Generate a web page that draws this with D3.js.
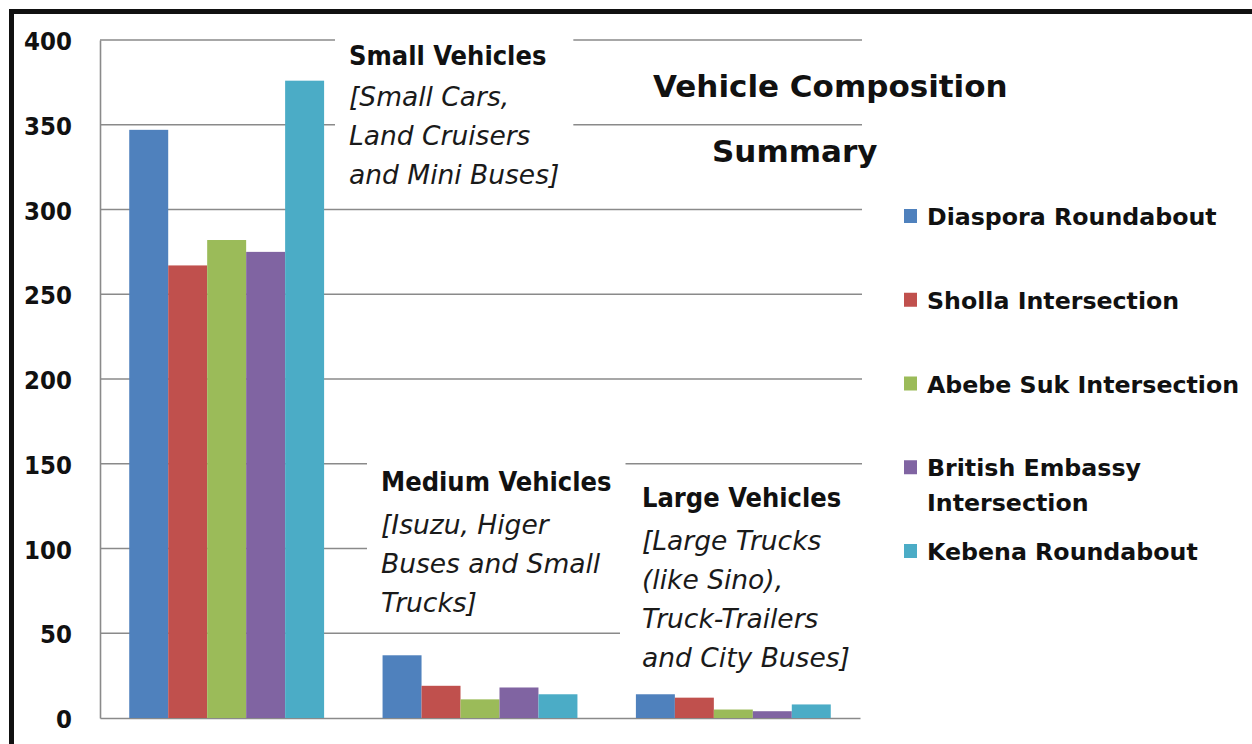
<!DOCTYPE html>
<html>
<head>
<meta charset="utf-8">
<script src="https://cdn.jsdelivr.net/npm/d3@7"></script>
<style>
  html, body { margin: 0; padding: 0; background: #fff; }
  svg { display: block; }
</style>
</head>
<body>
<svg id="chart" width="1252" height="744"></svg>
<script>
// Vehicle counts per intersection, grouped by vehicle class
const categories = ["Small Vehicles", "Medium Vehicles", "Large Vehicles"];
const seriesNames = [
  "Diaspora Roundabout",
  "Sholla Intersection",
  "Abebe Suk Intersection",
  "British Embassy Intersection",
  "Kebena Roundabout"
];
const diaspora       = [347, 37, 14];
const sholla         = [267, 19, 12];
const abebeSuk       = [282, 11, 5];
const britishEmbassy = [275, 18, 4];
const kebena         = [376, 14, 8];
const seriesValues = [diaspora, sholla, abebeSuk, britishEmbassy, kebena];
const seriesColors = ["#4F81BD", "#C0504D", "#9BBB59", "#8064A2", "#4BACC6"];
const yTicks = [0, 50, 100, 150, 200, 250, 300, 350, 400];

// Category notes printed inside the plot
const noteHeadings = ["Small Vehicles", "Medium Vehicles", "Large Vehicles"];
const noteLines = [
  ["[Small Cars,", "Land Cruisers", "and Mini Buses]"],
  ["[Isuzu, Higer", "Buses and Small", "Trucks]"],
  ["[Large Trucks", "(like Sino),", "Truck-Trailers", "and City Buses]"]
];
const titleLines = ["Vehicle Composition", "Summary"];

// ---- layout ----
const plot = { left: 100, right: 860, top: 40, bottom: 718 };
const notePos = [
  { x: 349, y: 65, padL: 14 },
  { x: 381, y: 491, padL: 14 },
  { x: 642, y: 507, padL: 22 }
];
const titlePos = [{ x: 653, y: 97 }, { x: 712, y: 162 }];

const boldFont = '"DejaVu Sans Condensed", "DejaVu Sans", sans-serif';
const plainFont = '"DejaVu Sans", sans-serif';
const gridColor = "#8a8a8a";

const svg = d3.select("#chart");

const data = categories.map((c, i) => ({
  category: c,
  values: seriesNames.map((s, j) => ({ series: s, value: seriesValues[j][i], color: seriesColors[j] }))
}));

const x0 = d3.scaleBand().domain(categories).range([plot.left, plot.right]).paddingInner(0).paddingOuter(0);
const x1 = d3.scaleBand().domain(seriesNames).range([0, x0.bandwidth()]).paddingInner(0).paddingOuter(0.75);
const y = d3.scaleLinear().domain([0, 400]).range([plot.bottom, plot.top]);

// gridlines
svg.append("g")
  .selectAll("line")
  .data(yTicks.filter(t => t > 0))
  .join("line")
  .attr("x1", plot.left).attr("x2", plot.right + 2)
  .attr("y1", d => y(d)).attr("y2", d => y(d))
  .attr("stroke", gridColor).attr("stroke-width", 1.6);

// axes (lines only, labels drawn below)
const yAxis = d3.axisLeft(y).tickValues(yTicks).tickSize(0).tickFormat("");
svg.append("g")
  .attr("transform", `translate(${plot.left},0)`)
  .call(yAxis)
  .call(g => g.select(".domain").attr("stroke", gridColor).attr("stroke-width", 1.6));
const xAxis = d3.axisBottom(x0).tickSize(0).tickFormat("");
svg.append("g")
  .attr("transform", `translate(0,${plot.bottom})`)
  .call(xAxis)
  .call(g => g.select(".domain").attr("stroke", gridColor).attr("stroke-width", 1.6));

// tick labels
svg.append("g")
  .selectAll("text")
  .data(yTicks)
  .join("text")
  .attr("x", 72)
  .attr("y", d => y(d) + 1)
  .attr("text-anchor", "end")
  .attr("dominant-baseline", "central")
  .attr("font-family", boldFont)
  .attr("font-weight", "bold")
  .attr("font-size", 25.5)
  .attr("fill", "#111")
  .text(d => d);

// category notes on white panels that break the gridlines
const notes = svg.append("g");
noteHeadings.forEach((h, i) => {
  const g = notes.append("g");
  const bg = g.append("rect").attr("fill", "#fff");
  const t = g.append("g");
  t.append("text")
    .attr("x", notePos[i].x).attr("y", notePos[i].y)
    .attr("font-family", boldFont).attr("font-weight", "bold")
    .attr("font-size", 27).attr("fill", "#111")
    .text(h);
  noteLines[i].forEach((line, k) => {
    t.append("text")
      .attr("x", notePos[i].x)
      .attr("y", notePos[i].y + (i === 0 ? 41 : 43) + k * 39)
      .attr("font-family", plainFont).attr("font-style", "italic")
      .attr("font-size", 26.5).attr("fill", "#1a1a1a")
      .text(line);
  });
  const bb = t.node().getBBox();
  bg.attr("x", bb.x - notePos[i].padL).attr("y", bb.y - 8)
    .attr("width", bb.width + notePos[i].padL + 14).attr("height", bb.height + 14);
});

// bars
svg.append("g")
  .selectAll("g")
  .data(data)
  .join("g")
  .attr("transform", d => `translate(${x0(d.category)},0)`)
  .selectAll("rect")
  .data(d => d.values)
  .join("rect")
  .attr("x", d => x1(d.series))
  .attr("width", x1.bandwidth())
  .attr("y", d => y(d.value))
  .attr("height", d => y(0) - y(d.value))
  .attr("fill", d => d.color);

// title
svg.append("g")
  .selectAll("text")
  .data(titleLines)
  .join("text")
  .attr("x", (d, i) => titlePos[i].x)
  .attr("y", (d, i) => titlePos[i].y)
  .attr("font-family", plainFont)
  .attr("font-weight", "bold")
  .attr("font-size", 31)
  .attr("fill", "#111")
  .text(d => d);

// legend
const legend = svg.append("g");
const legendX = 927, legendTop = 225, legendStep = 83.75, legendMax = 330;
seriesNames.forEach((name, i) => {
  const by = legendTop + i * legendStep;
  legend.append("rect")
    .attr("x", legendX - 23).attr("y", by - 16)
    .attr("width", 13).attr("height", 14)
    .attr("fill", seriesColors[i]);
  const txt = legend.append("text")
    .attr("font-family", plainFont).attr("font-weight", "bold")
    .attr("font-size", 23.7).attr("fill", "#111");
  // simple word wrap
  const words = name.split(" ");
  let line = [], row = 0;
  let tspan = txt.append("tspan").attr("x", legendX).attr("y", by);
  words.forEach(w => {
    line.push(w);
    tspan.text(line.join(" "));
    if (tspan.node().getComputedTextLength() > legendMax && line.length > 1) {
      line.pop();
      tspan.text(line.join(" "));
      line = [w];
      row++;
      tspan = txt.append("tspan").attr("x", legendX).attr("y", by + row * 35).text(w);
    }
  });
});

// frame
svg.append("path")
  .attr("d", "M11.5,744 V11.5 H1252")
  .attr("fill", "none")
  .attr("stroke", "#111")
  .attr("stroke-width", 5);
</script>
</body>
</html>
